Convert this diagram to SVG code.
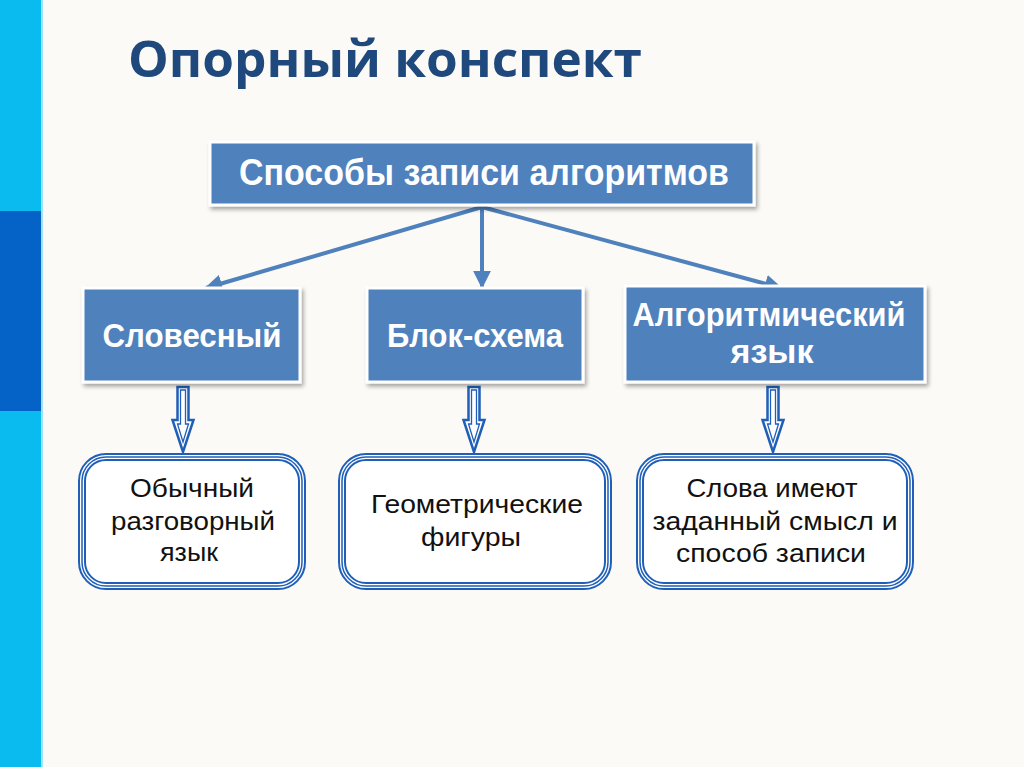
<svg xmlns="http://www.w3.org/2000/svg" width="1024" height="767" viewBox="0 0 1024 767">
<defs>
<style>
.box{fill:#4F81BD;stroke:#FFFFFF;stroke-width:3}
.wt{font-family:"Liberation Sans",Arial,sans-serif;font-weight:bold;fill:#FFFFFF;text-anchor:middle}
.bt{font-family:"Liberation Sans",Arial,sans-serif;fill:#111111;text-anchor:middle;font-size:25px}
.con{stroke:#4F81BD;stroke-width:4;fill:none}
.rb1{fill:#FFFFFF;stroke:#1F5FB8;stroke-width:8}
.rb2{fill:none;stroke:#FFFFFF;stroke-width:4}
.rb3{fill:none;stroke:#1F5FB8;stroke-width:1.5}
.da1{fill:#FFFFFF;stroke:#1F5FB8;stroke-width:2.5;stroke-linejoin:miter}
.da2{fill:none;stroke:#1F5FB8;stroke-width:1.3;stroke-linejoin:miter}
</style>
<marker id="ah" viewBox="0 0 10 10" refX="9" refY="5" markerWidth="4.5" markerHeight="4.5" orient="auto" markerUnits="strokeWidth">
<path d="M0,0 L10,5 L0,10 z" fill="#4F81BD"/>
</marker>
<filter id="sh" x="-10%" y="-10%" width="130%" height="140%">
<feGaussianBlur in="SourceAlpha" stdDeviation="2"/>
<feOffset dx="2" dy="3" result="o"/>
<feComponentTransfer><feFuncA type="linear" slope="0.35"/></feComponentTransfer>
<feMerge><feMergeNode/><feMergeNode in="SourceGraphic"/></feMerge>
</filter>
</defs>
<rect x="0" y="0" width="1024" height="767" fill="#FBFAF6"/>
<rect x="0" y="0" width="41" height="767" fill="#0ABBEF"/>
<rect x="0" y="211" width="41" height="200" fill="#0563C8"/>
<rect x="41" y="0" width="2" height="767" fill="#9EE3F7"/>

<text x="128" y="77" font-family="'Open Sans','Noto Sans',sans-serif" font-weight="bold" font-size="51" fill="#1F497D" textLength="514" lengthAdjust="spacingAndGlyphs">Опорный конспект</text>

<g id="connectors">
<line class="con" x1="482" y1="207" x2="206" y2="288" marker-end="url(#ah)"/>
<line class="con" x1="482" y1="207" x2="482" y2="287" marker-end="url(#ah)"/>
<line class="con" x1="482" y1="207" x2="781" y2="288" marker-end="url(#ah)"/>
<g id="da-left"><path class="da1" d="M177.5,387 H188.5 V420 H193.5 L183,452 L172.5,420 H177.5 Z"/><path class="da2" d="M180.5,390 H185.5 V424 H188.5 L183,442 L177.5,424 H180.5 Z"/></g>
<g id="da-mid"><path class="da1" d="M468.5,387 H479.5 V420 H484.5 L474,452 L463.5,420 H468.5 Z"/><path class="da2" d="M471.5,390 H476.5 V424 H479.5 L474,442 L468.5,424 H471.5 Z"/></g>
<g id="da-right"><path class="da1" d="M767.5,387 H778.5 V420 H783.5 L773,452 L762.5,420 H767.5 Z"/><path class="da2" d="M770.5,390 H775.5 V424 H778.5 L773,442 L767.5,424 H770.5 Z"/></g>
</g>

<g id="top">
<rect class="box" x="210" y="142" width="544" height="63" filter="url(#sh)"/>
<text class="wt" x="484" y="185" font-size="36" textLength="490" lengthAdjust="spacingAndGlyphs">Способы записи алгоритмов</text>
</g>

<g id="n-slovesny">
<rect class="box" x="83" y="288" width="217" height="94" filter="url(#sh)"/>
<text class="wt" x="192" y="347" font-size="33" textLength="179" lengthAdjust="spacingAndGlyphs">Словесный</text>
</g>
<g id="n-block">
<rect class="box" x="367" y="288" width="216" height="94" filter="url(#sh)"/>
<text class="wt" x="475" y="347" font-size="33" textLength="176" lengthAdjust="spacingAndGlyphs">Блок-схема</text>
</g>
<g id="n-alg">
<rect class="box" x="625" y="286" width="300" height="96" filter="url(#sh)"/>
<text class="wt" x="769" y="326" font-size="33" textLength="273" lengthAdjust="spacingAndGlyphs">Алгоритмический</text>
<text class="wt" x="772" y="363" font-size="33" textLength="83" lengthAdjust="spacingAndGlyphs">язык</text>
</g>

<g id="b-left">
<rect class="rb1" x="82" y="457" width="220" height="129" rx="24"/>
<rect class="rb2" x="82" y="457" width="220" height="129" rx="24"/>
<rect class="rb3" x="82" y="457" width="220" height="129" rx="24"/>
<text class="bt" x="192" y="497" textLength="124" lengthAdjust="spacingAndGlyphs">Обычный</text>
<text class="bt" x="193" y="530" textLength="164" lengthAdjust="spacingAndGlyphs">разговорный</text>
<text class="bt" x="189" y="561" textLength="58" lengthAdjust="spacingAndGlyphs">язык</text>
</g>
<g id="b-mid">
<rect class="rb1" x="342" y="457" width="266" height="129" rx="24"/>
<rect class="rb2" x="342" y="457" width="266" height="129" rx="24"/>
<rect class="rb3" x="342" y="457" width="266" height="129" rx="24"/>
<text class="bt" x="477" y="513" textLength="212" lengthAdjust="spacingAndGlyphs">Геометрические</text>
<text class="bt" x="471" y="546" textLength="100" lengthAdjust="spacingAndGlyphs">фигуры</text>
</g>
<g id="b-right">
<rect class="rb1" x="640" y="457" width="270" height="129" rx="24"/>
<rect class="rb2" x="640" y="457" width="270" height="129" rx="24"/>
<rect class="rb3" x="640" y="457" width="270" height="129" rx="24"/>
<text class="bt" x="772" y="497" textLength="171" lengthAdjust="spacingAndGlyphs">Слова имеют</text>
<text class="bt" x="775" y="530" textLength="245" lengthAdjust="spacingAndGlyphs">заданный смысл и</text>
<text class="bt" x="771" y="562" textLength="190" lengthAdjust="spacingAndGlyphs">способ записи</text>
</g>
</svg>
